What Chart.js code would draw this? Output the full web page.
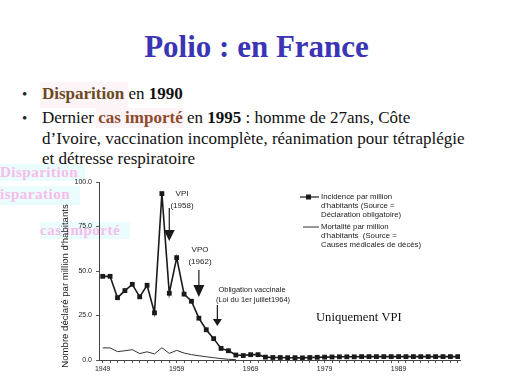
<!DOCTYPE html>
<html>
<head>
<meta charset="utf-8">
<script src="https://cdn.jsdelivr.net/npm/chart.js@4.4.1/dist/chart.umd.min.js"></script>
<style>
  html, body { margin: 0; padding: 0; background: #fff; }
  #slide { position: relative; width: 513px; height: 384px; overflow: hidden; font-family: 'Liberation Serif', 'Times New Roman', serif; }
  .title { position: absolute; left: 0; width: 513px; top: 29px; line-height: 36px; text-align: center; font-size: 31px; font-weight: bold; color: #3b35b5; }
  .line { position: absolute; left: 42px; font-size: 17px; line-height: 20px; color: #111; white-space: nowrap; }
  .bullet { position: absolute; left: 22px; font-size: 15px; line-height: 20px; color: #222; }
  .brown { color: #6b4a1f; font-weight: bold; }
  .rust { color: #8e4a2c; font-weight: bold; }
  .ghost { position: absolute; font-family: 'Liberation Serif', serif; font-weight: bold; font-size: 15px; letter-spacing: 0.5px; color: #f6bdec; background: #ebfcfd; white-space: nowrap; line-height: 17px; }
  .hl { position: absolute; background: #fdf4f7; }
  #wrap { position: absolute; left: 0; top: 170px; width: 513px; height: 214px; }
</style>
</head>
<body>
<div id="slide">
  <div class="hl" style="left:40px;top:82px;width:88px;height:26px;"></div>
  <div class="hl" style="left:96px;top:108px;width:88px;height:20px;"></div>
  <div class="title">Polio : en France</div>
  <div class="bullet" style="top:84px;">•</div>
  <div class="line" style="top:84px;"><span class="brown">Disparition</span> en <b>1990</b></div>
  <div class="bullet" style="top:108px;">•</div>
  <div class="line" style="top:108px;">Dernier <span class="rust">cas importé</span> en <b>1995</b> : homme de 27ans, Côte</div>
  <div class="line" style="top:129px;">d’Ivoire, vaccination incomplète, réanimation pour tétraplégie</div>
  <div class="line" style="top:149px;">et détresse respiratoire</div>
  <div class="ghost" style="left:0;top:164px;width:85px;">Disparition</div>
  <div class="ghost" style="left:0;top:186px;width:80px;height:19px;overflow:hidden;">isparation</div>
  <div class="ghost" style="left:40px;top:222px;width:90px;">cas importé</div>
  <div id="wrap"><canvas id="myChart" width="513" height="214"></canvas></div>
</div>
<script>
const years = [1949, 1950, 1951, 1952, 1953, 1954, 1955, 1956, 1957, 1958,
  1959, 1960, 1961, 1962, 1963, 1964, 1965, 1966, 1967, 1968,
  1969, 1970, 1971, 1972, 1973, 1974, 1975, 1976, 1977, 1978,
  1979, 1980, 1981, 1982, 1983, 1984, 1985, 1986, 1987, 1988,
  1989, 1990, 1991, 1992, 1993, 1994, 1995, 1996, 1997];

const incidence = [47, 47, 35, 39, 42.5, 35.5, 42, 26.5, 93.5, 37.5,
  57.5, 37, 33, 23.5, 17, 12, 6.5, 5.2, 2.8, 2.5,
  3, 3, 1.6, 1.4, 1.4, 1.3, 1.3, 1.2, 1.4, 1.5,
  1.6, 1.7, 1.8, 1.8, 1.8, 1.9, 1.9, 1.9, 1.9, 1.9,
  1.9, 1.9, 1.9, 1.9, 1.9, 1.9, 1.9, 1.9, 1.9];

const mortality = [6.8, 6.8, 4.7, 5.2, 5.8, 3.6, 4.6, 3.4, 6.9, 3.7,
  5.4, 3.9, 3.0, 2.4, 1.8, 1.3, 0.8, 0.4, 0.2, null];

const xTickLabels = ['1949', '1959', '1969', '1979', '1989'];
const yTicks = [0, 25, 50, 75, 100];

const legendIncidence = ['Incidence par million', "d'habitants (Source =", 'Déclaration obligatoire)'];
const legendMortality = ['Mortalité par million', "d'habitants  (Source =", 'Causes médicales de décès)'];

// annotations: year of arrow, text lines
const notes = [
  { year: 1958, text: ['VPI', '(1958)'] },
  { year: 1962, text: ['VPO', '(1962)'] },
  { year: 1964.5, text: ['Obligation vaccinale', '(Loi du 1er juillet1964)'] }
];

const OFF = 170; // canvas top on the page

function arrow(ctx, x, y1, y2, headH, headW) {
    ctx.beginPath();
    ctx.moveTo(x, y1);
    ctx.lineTo(x, y2 - headH);
    ctx.stroke();
    ctx.beginPath();
    ctx.moveTo(x - headW / 2, y2 - headH);
    ctx.lineTo(x + headW / 2, y2 - headH);
    ctx.lineTo(x, y2);
    ctx.closePath();
    ctx.fill();
}

const extras = {
    id: 'extras',
    afterDraw(chart) {
        const ctx = chart.ctx;
        const xs = chart.scales.x;
        ctx.save();
        ctx.strokeStyle = '#1a1a1a';
        ctx.fillStyle = '#1a1a1a';
        ctx.lineWidth = 1.2;

        // arrows
        arrow(ctx, xs.getPixelForValue(notes[0].year), 208 - OFF, 241 - OFF, 11, 11);
        arrow(ctx, xs.getPixelForValue(notes[1].year), 270 - OFF, 297 - OFF, 12, 11);
        arrow(ctx, xs.getPixelForValue(notes[2].year), 305 - OFF, 326 - OFF, 7, 9);

        ctx.font = '8px "Liberation Sans", Arial, sans-serif';
        ctx.textAlign = 'center';
        ctx.textBaseline = 'middle';
        ctx.fillText(notes[0].text[0], 182, 194 - OFF);
        ctx.fillText(notes[0].text[1], 182, 206 - OFF);
        ctx.fillText(notes[1].text[0], 200, 250 - OFF);
        ctx.fillText(notes[1].text[1], 200, 262 - OFF);
        ctx.font = '7.5px "Liberation Sans", Arial, sans-serif';
        ctx.fillText(notes[2].text[0], 252, 290 - OFF);
        ctx.fillText(notes[2].text[1], 253, 300 - OFF);

        // legend
        ctx.font = '7.8px "Liberation Sans", Arial, sans-serif';
        ctx.textAlign = 'left';
        ctx.beginPath();
        ctx.moveTo(300, 197 - OFF);
        ctx.lineTo(319, 197 - OFF);
        ctx.stroke();
        ctx.fillRect(306, 194.5 - OFF, 5, 5);
        legendIncidence.forEach((t, i) => ctx.fillText(t, 321, 197 - OFF + i * 9));
        ctx.lineWidth = 0.9;
        ctx.beginPath();
        ctx.moveTo(303, 227 - OFF);
        ctx.lineTo(319, 227 - OFF);
        ctx.stroke();
        legendMortality.forEach((t, i) => ctx.fillText(t, 321, 227 - OFF + i * 9));

        // y axis title
        ctx.save();
        ctx.translate(65, 286 - OFF);
        ctx.rotate(-Math.PI / 2);
        ctx.textAlign = 'center';
        ctx.font = '9.6px "Liberation Sans", Arial, sans-serif';
        ctx.fillText("Nombre déclaré par million d'habitants", 0, 0);
        ctx.restore();

        // note
        ctx.fillStyle = '#111';
        ctx.font = '12.6px "Liberation Serif", "Times New Roman", serif';
        ctx.textAlign = 'left';
        ctx.fillText('Uniquement VPI', 316, 318 - OFF);
        ctx.restore();
    }
};

const myChart = new Chart(document.getElementById('myChart').getContext('2d'), {
    type: 'line',
    data: {
        datasets: [{
            label: 'Incidence',
            data: years.map((y, i) => ({ x: y, y: incidence[i] })),
            borderColor: '#1a1a1a',
            backgroundColor: '#1a1a1a',
            borderWidth: 1.6,
            pointStyle: 'rect',
            pointRadius: 3.4,
            pointBorderWidth: 0,
            tension: 0
        }, {
            label: 'Mortalité',
            data: mortality.map((v, i) => ({ x: years[i], y: v })),
            borderColor: '#333',
            borderWidth: 1,
            pointRadius: 0,
            tension: 0
        }]
    },
    options: {
        responsive: false,
        animation: false,
        layout: { padding: { left: 0, top: 12, right: 53, bottom: 0 } },
        plugins: { legend: { display: false }, tooltip: { enabled: false } },
        scales: {
            x: {
                type: 'linear',
                min: 1948.5,
                max: 1997.3,
                afterBuildTicks: scale => { scale.ticks = years.map(v => ({ value: v })); },
                afterFit: scale => { scale.height = 24; },
                ticks: {
                    autoSkip: false,
                    maxRotation: 0,
                    padding: 2,
                    color: '#222',
                    font: { family: '"Liberation Sans", Arial, sans-serif', size: 7 },
                    callback: v => xTickLabels.includes(String(v)) ? String(v) : ''
                },
                grid: { drawOnChartArea: false, tickLength: 3, color: '#555' },
                border: { color: '#444', width: 1 }
            },
            y: {
                min: 0,
                max: 100,
                afterBuildTicks: scale => { scale.ticks = yTicks.map(v => ({ value: v })); },
                afterFit: scale => { scale.width = 99; },
                ticks: {
                    padding: 4,
                    color: '#222',
                    font: { family: '"Liberation Sans", Arial, sans-serif', size: 7 },
                    callback: v => v.toFixed(1)
                },
                grid: { drawOnChartArea: false, tickLength: 3, color: '#555' },
                border: { color: '#444', width: 1 }
            }
        }
    },
    plugins: [extras]
});
</script>
</body>
</html>
